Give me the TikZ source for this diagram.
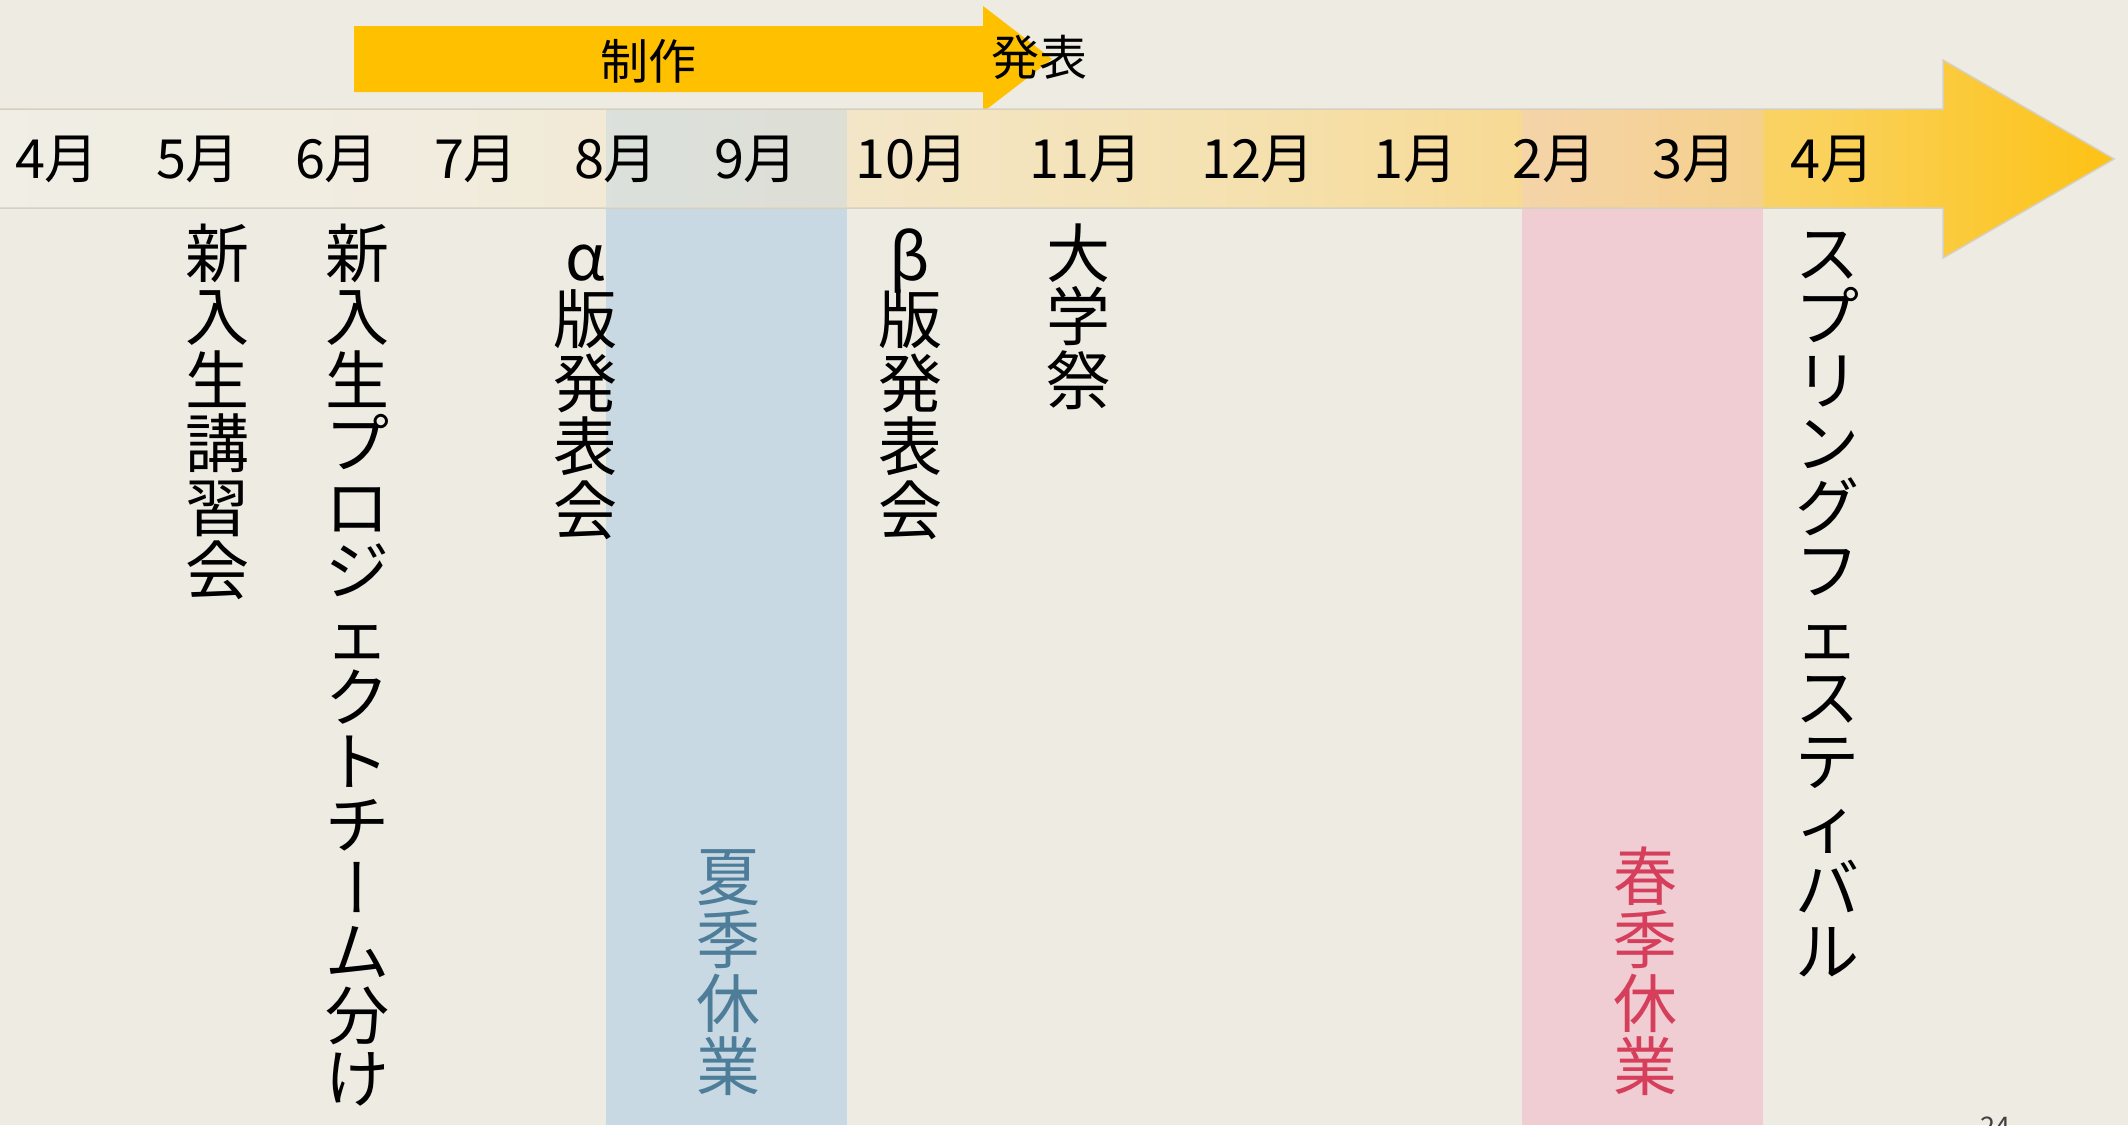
\documentclass[tikz,border=0pt]{standalone}
\usepackage{fontspec}
\setmainfont{Noto Sans CJK JP}
\newfontfamily\vertfont[RawFeature=+vert]{Noto Sans CJK JP}
\definecolor{bg}{RGB}{238,235,227}
\definecolor{gold}{RGB}{255,192,0}
\definecolor{bandblue}{RGB}{200,217,227}
\definecolor{bandpink}{RGB}{240,204,211}
\definecolor{txtblue}{RGB}{78,125,154}
\definecolor{txtpink}{RGB}{214,63,92}
\definecolor{edge}{RGB}{214,208,192}
\definecolor{g0}{RGB}{240,238,229}
\definecolor{g1}{RGB}{241,236,222}
\definecolor{g2}{RGB}{243,230,200}
\definecolor{g3}{RGB}{245,225,175}
\definecolor{g4}{RGB}{247,218,150}
\definecolor{g5}{RGB}{250,208,85}
\definecolor{g6}{RGB}{253,194,20}
\pgfdeclarehorizontalshading{timeline}{100bp}{color(0bp)=(g0); color(25bp)=(g0); color(35.6bp)=(g1); color(45.1bp)=(g2); color(54.6bp)=(g3); color(60.5bp)=(g4); color(68.8bp)=(g5); color(75bp)=(g6); color(100bp)=(g6)}
\newcommand\vcolumn[5]{%
  \foreach \ch [count=\i] in {#5} {\node[#4] (#1-\i) at (#2,{#3+63.5*(\i-1)}) {\ch};}}
\newcommand\vbar{{\vertfont ー}}
\begin{document}
\begin{tikzpicture}[x=1pt,y=-1pt,
  month/.style={anchor=base,inner sep=0pt,font=\fontsize{54}{54}\selectfont},
  vch/.style={anchor=base,inner sep=0pt,font=\fontsize{64}{64}\selectfont},
  toplbl/.style={anchor=base,inner sep=0pt,font=\fontsize{48}{48}\selectfont}]
\useasboundingbox (0,0) rectangle (2128,1125);
\clip (0,0) rectangle (2128,1125);
\fill[bg] (0,0) rectangle (2128,1125);
% top arrow
\fill[gold] (354,26) -- (983,26) -- (983,6) -- (1052,59) -- (983,112) -- (983,92) -- (354,92) -- cycle;
% main timeline arrow
\path[shading=timeline] (-5,109) -- (1943,109) -- (1943,60) -- (2114,159) -- (1943,258) -- (1943,208) -- (-5,208) -- cycle;
\draw[edge,line width=1.5pt,line join=miter] (-5,109) -- (1943,109) -- (1943,60) -- (2114,159) -- (1943,258) -- (1943,208) -- (-5,208);
% vacation bands
\fill[bandblue,opacity=0.5] (606,110) rectangle (847,207);
\fill[bandblue] (606,209) rectangle (847,1125);
\fill[bandpink,opacity=0.35] (1522,110) rectangle (1763,207);
\fill[bandpink] (1522,209) rectangle (1763,1125);
% top labels
\node[toplbl] (seisaku) at (648,79) {制作};
\node[toplbl] (happyo) at (1039,75) {発表};
% months
\node[month] (m1) at (57,178) {4月};
\node[month] (m2) at (198,178) {5月};
\node[month] (m3) at (337,178) {6月};
\node[month] (m4) at (476,178) {7月};
\node[month] (m5) at (616,178) {8月};
\node[month] (m6) at (756,178) {9月};
\node[month] (m7) at (912,178) {10月};
\node[month] (m8) at (1086,178) {11月};
\node[month] (m9) at (1258,178) {12月};
\node[month] (m10) at (1415,178) {1月};
\node[month] (m11) at (1554,178) {2月};
\node[month] (m12) at (1694,178) {3月};
\node[month] (m13) at (1832,178) {4月};
% vertical event labels
\vcolumn{ev1}{217}{277}{vch}{新,入,生,講,習,会}
\vcolumn{ev2}{357}{277}{vch}{新,入,生,プ,ロ,ジ,ェ,ク,ト,チ,\vbar,ム,分,け}
\vcolumn{ev3}{585}{280}{vch}{α,版,発,表,会}
\vcolumn{ev4}{910}{280}{vch}{β,版,発,表,会}
\vcolumn{ev5}{1078}{277}{vch}{大,学,祭}
\vcolumn{ev6}{1827}{277}{vch}{ス,プ,リ,ン,グ,フ,ェ,ス,テ,ィ,バ,ル}
% vacations
\vcolumn{sv}{728}{900}{vch,text=txtblue}{夏,季,休,業}
\vcolumn{wv}{1645}{900}{vch,text=txtpink}{春,季,休,業}
% page number
\node[anchor=base,inner sep=0pt,text=black!75,font=\fontsize{27}{27}\selectfont] (page) at (1995,1136) {24};
\end{tikzpicture}
\end{document}
